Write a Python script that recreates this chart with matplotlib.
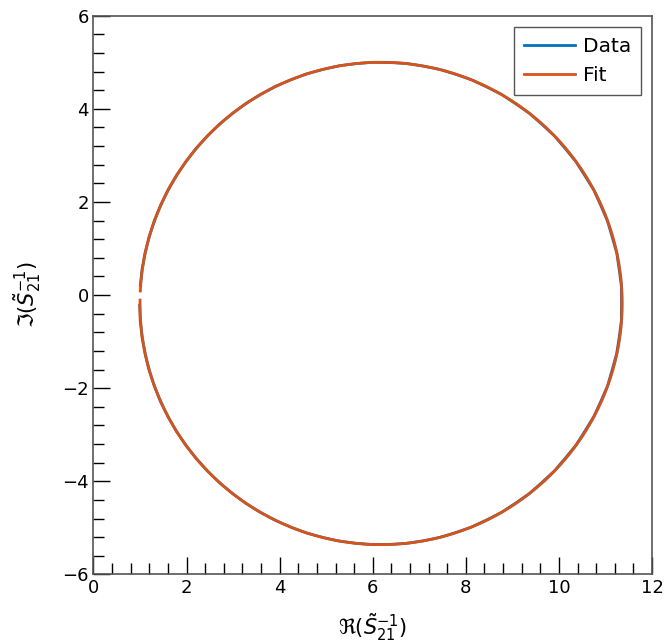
import numpy as np
from matplotlib import pyplot as plt

data_angle_deg = [-179.6, -176, -172, -168, -164, -160, -156, -152, -148, -144,
                  -140, -136, -132, -128, -124, -120, -116, -112, -108, -104,
                  -100, -96, -92, -88, -84, -80, -76, -72, -68, -64,
                  -60, -56, -52, -48, -44, -40, -36, -32, -28, -24,
                  -20, -16, -12, -8, -4, 0, 4, 8, 12, 16,
                  20, 24, 28, 32, 36, 40, 44, 48, 52, 56,
                  60, 64, 68, 72, 76, 80, 84, 88, 92, 96,
                  100, 104, 108, 112, 116, 120, 124, 128, 132, 136,
                  140, 144, 148, 152, 156, 160, 164, 168, 172, 175.7]
data_radius = [5.188, 5.189, 5.188, 5.187, 5.188, 5.187, 5.188, 5.186, 5.187, 5.186,
               5.186, 5.185, 5.186, 5.184, 5.185, 5.184,
               5.183, 5.181, 5.184, 5.180, 5.183, 5.179, 5.182, 5.178, 5.181, 5.177,
               5.180, 5.175, 5.179, 5.173, 5.178,
               5.170, 5.177, 5.168, 5.176, 5.166, 5.175, 5.165, 5.174, 5.167, 5.176,
               5.164, 5.173, 5.166, 5.174, 5.165, 5.175, 5.166, 5.176, 5.165, 5.174,
               5.167, 5.177, 5.166, 5.175, 5.168, 5.178, 5.170, 5.179, 5.172,
               5.180, 5.174, 5.181, 5.176, 5.182, 5.177, 5.183, 5.178, 5.183, 5.179,
               5.184, 5.180, 5.185, 5.182, 5.186, 5.184,
               5.186, 5.185, 5.187, 5.186, 5.187, 5.186, 5.187, 5.188, 5.187, 5.188,
               5.188, 5.188, 5.189, 5.188]

# circle fit parameters
fit_xc, fit_yc, fit_r = 6.18, -0.18, 5.18
fit_angle_range = (-180.8, 177.05)

th = np.deg2rad(np.array(data_angle_deg))
data_re = fit_xc + np.array(data_radius) * np.cos(th)
data_im = fit_yc + np.array(data_radius) * np.sin(th)

tf = np.deg2rad(np.linspace(fit_angle_range[0], fit_angle_range[1], 500))
fit_re = fit_xc + fit_r * np.cos(tf)
fit_im = fit_yc + fit_r * np.sin(tf)

plt.rcParams['font.family'] = ['DejaVu Sans']
plt.rcParams['font.size'] = 13

fig = plt.figure(figsize=(6.64, 6.44), dpi=100)
ax = fig.add_axes([0.1408, 0.108, 0.8412, 0.8676])

ax.plot(data_re, data_im, color='#0072BD', lw=2, label='Data')
ax.plot(fit_re, fit_im, color='#D95319', lw=2, label='Fit')

ax.set_xlim(0, 12)
ax.set_ylim(-6, 6)
ax.set_xticks(np.arange(0, 13, 2))
ax.set_yticks(np.arange(-6, 7, 2))
ax.set_xticks(np.arange(0, 12.01, 0.4), minor=True)
ax.set_yticks(np.arange(-6, 6.01, 0.4), minor=True)
ax.tick_params(which='both', direction='in', top=False, right=False)
ax.tick_params(which='major', length=12, width=1)
ax.tick_params(which='minor', length=8, width=1)
for s in ax.spines.values():
    s.set_color('#555555')
    s.set_linewidth(1.2)

ax.set_xlabel(r'$\Re(\tilde{S}_{21}^{-1})$', fontsize=15, labelpad=10)
ax.set_ylabel(r'$\Im(\tilde{S}_{21}^{-1})$', fontsize=15, labelpad=14)

leg = ax.legend(loc='upper right', fancybox=False, edgecolor='#555555',
                framealpha=1, borderaxespad=0.55, handlelength=2.5,
                handletextpad=0.4, labelspacing=0.5, fontsize=14.5,
                borderpad=0.5)
leg.get_frame().set_linewidth(1)

fig.savefig('out.png', dpi=100)
